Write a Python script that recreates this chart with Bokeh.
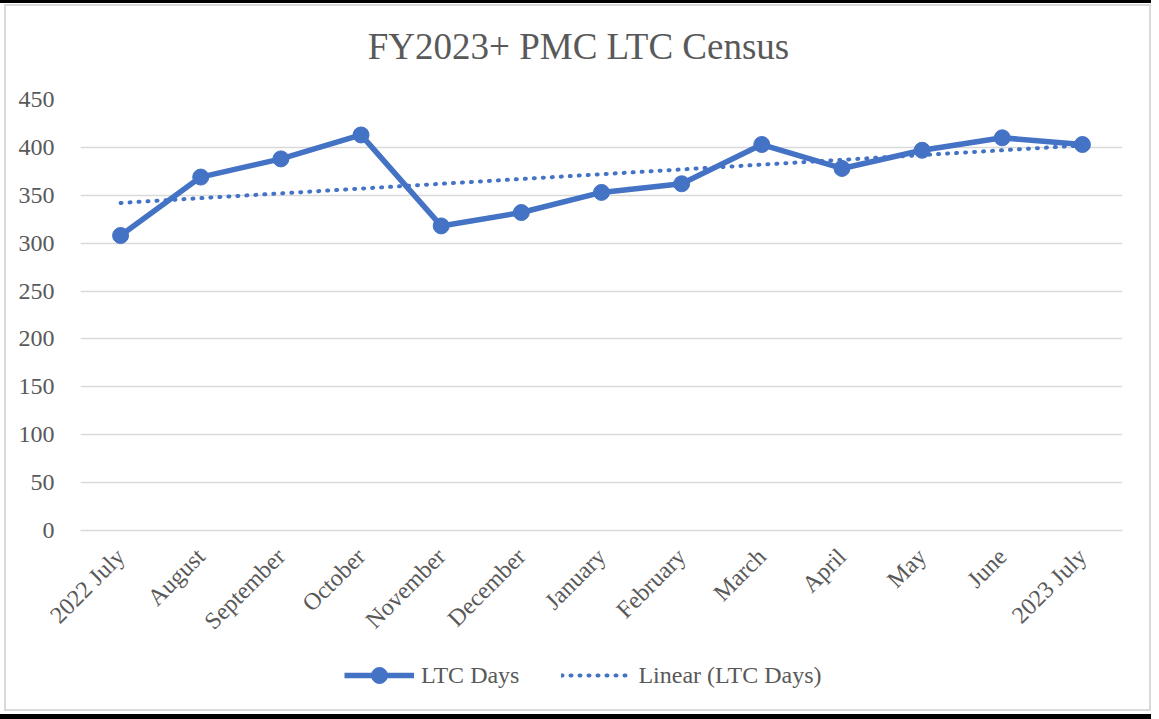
from math import pi
from bokeh.plotting import figure
from bokeh.layouts import column
from bokeh.models import Range1d, FactorRange, Legend, LegendItem, ColumnDataSource, Label
from bokeh.embed import file_html
from bokeh.resources import INLINE

months = ["2022 July", "August", "September", "October", "November", "December",
          "January", "February", "March", "April", "May", "June", "2023 July"]
ltc_days = [308, 369, 388, 413, 318, 332, 353, 362, 403, 378, 397, 410, 403]
trend_months = ["2022 July", "2023 July"]
trend_values = [342, 402]
title_text = "FY2023+ PMC LTC Census"
series_name = "LTC Days"
trend_name = "Linear (LTC Days)"

BLUE = "#4472C4"
TXT = "#595959"
GRID = "#D9D9D9"
FONT = "Liberation Serif"

# ---- title strip ----
tf = figure(width=1143, height=76, x_range=Range1d(0, 1), y_range=Range1d(0, 1),
            output_backend="svg", toolbar_location=None, min_border=0,
            x_axis_location=None, y_axis_location=None)
tf.grid.visible = False
tf.outline_line_color = None
tf.border_fill_color = "white"
tf.add_layout(Label(x=498, y=36, x_units="screen", y_units="screen", text=title_text,
                    text_font=FONT, text_font_size="37px", text_color=TXT,
                    text_align="center", text_baseline="middle"))

# ---- main chart ----
p = figure(x_range=months, y_range=Range1d(0, 450),
           frame_width=1042, frame_height=431,
           output_backend="svg", toolbar_location=None,
           min_border_left=74, min_border_right=27, min_border_top=17, min_border_bottom=120)
p.outline_line_color = None
p.background_fill_color = "white"
p.border_fill_color = "white"

src = ColumnDataSource(dict(m=months, v=ltc_days))
tsrc = ColumnDataSource(dict(m=trend_months, v=trend_values))

p.line("m", "v", source=tsrc, line_color=BLUE, line_width=4, line_dash="1 8", line_cap="round")
p.line("m", "v", source=src, line_color=BLUE, line_width=5.5, line_join="round")
p.scatter("m", "v", source=src, size=16, fill_color=BLUE, line_color=BLUE)

p.ygrid.grid_line_color = GRID
p.ygrid.grid_line_width = 1.5
p.xgrid.grid_line_color = None
p.yaxis.ticker = [0, 50, 100, 150, 200, 250, 300, 350, 400, 450]

for ax in (p.xaxis[0], p.yaxis[0]):
    ax.major_tick_line_color = None
    ax.minor_tick_line_color = None
    ax.major_label_text_font = FONT
    ax.major_label_text_font_size = "24px"
    ax.major_label_text_color = TXT
p.yaxis.axis_line_color = None
p.yaxis.major_label_standoff = 20
p.xaxis.axis_line_color = GRID
p.xaxis.axis_line_width = 1.5
p.xaxis.major_label_orientation = pi / 4
p.xaxis.major_label_standoff = 16

# ---- legend strip (series drawn out of view, only the legend shows) ----
lg = figure(width=1143, height=59, x_range=FactorRange(*months), y_range=Range1d(0, 1),
            output_backend="svg", toolbar_location=None,
            min_border=0, x_axis_location=None, y_axis_location=None)
lg.grid.visible = False
lg.outline_line_color = None
lg.background_fill_color = "white"
lg.border_fill_color = "white"
l_tr = lg.line("m", "v", source=tsrc, line_color=BLUE, line_width=4, line_dash="1 8", line_cap="round")
l_ln = lg.line("m", "v", source=src, line_color=BLUE, line_width=5.5)
l_sc = lg.scatter("m", "v", source=src, size=16, fill_color=BLUE, line_color=BLUE)

legend = Legend(items=[LegendItem(label=series_name, renderers=[l_ln, l_sc]),
                       LegendItem(label=trend_name, renderers=[l_tr])],
                orientation="horizontal", location=(264, 14),
                glyph_width=70, glyph_height=40, label_standoff=7, spacing=42,
                padding=0, margin=0, border_line_color=None, background_fill_alpha=0,
                label_text_font=FONT, label_text_font_size="24px", label_text_color=TXT)
lg.add_layout(legend, "center")

inner = column(tf, p, lg, spacing=0,
               styles={"border": "2px solid #D9D9D9", "background": "white"})
outer = column(inner, spacing=0,
               styles={"border-top": "3px solid black", "border-bottom": "5px solid black",
                       "padding": "1px 0px 3px 4px", "background": "white"})

open("out.html", "w").write(file_html(outer, INLINE))
